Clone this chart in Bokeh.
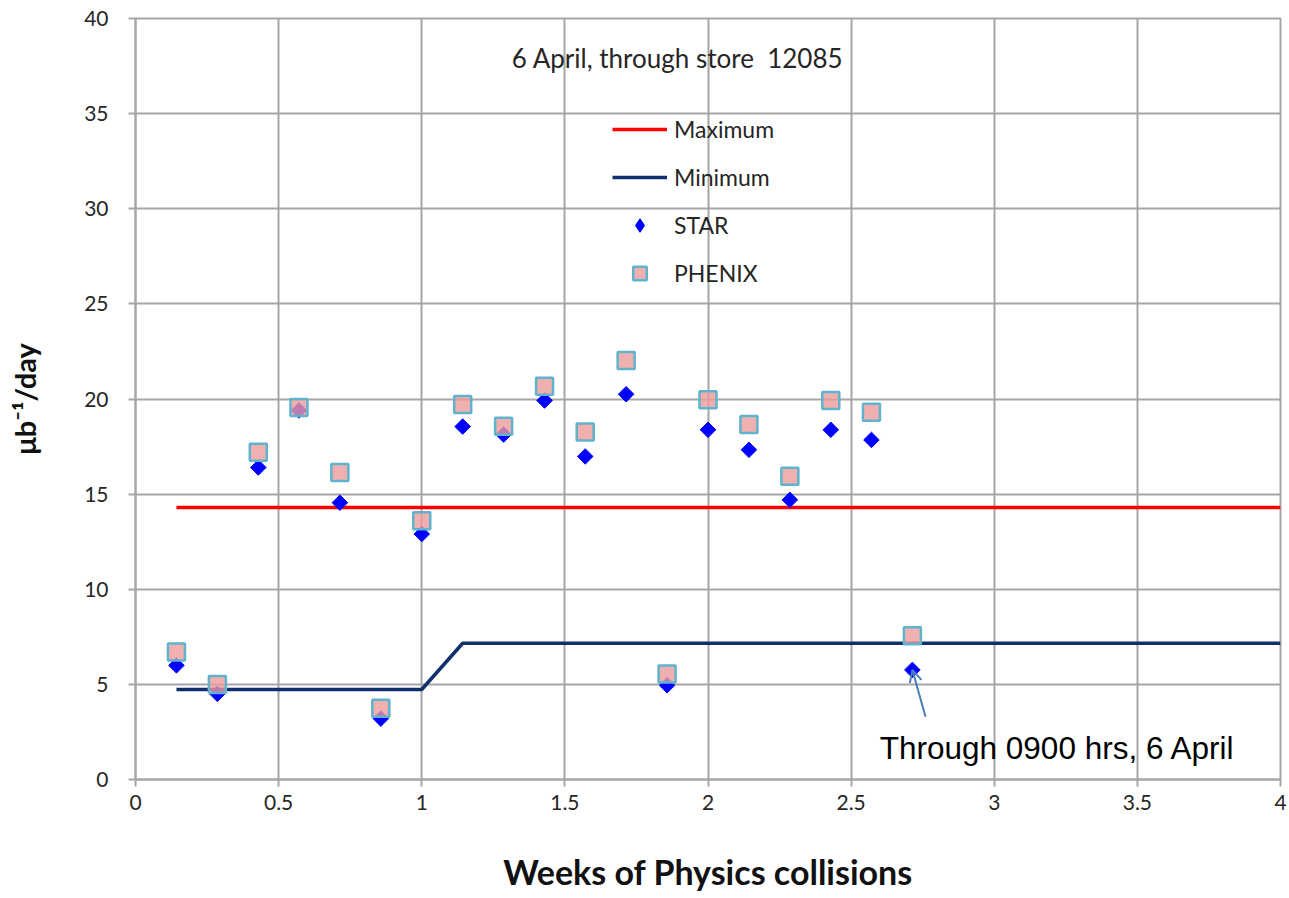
from bokeh.plotting import figure
from bokeh.models import (Legend, LegendItem, Label, Arrow, OpenHead,
                          FixedTicker, ColumnDataSource)
from bokeh.embed import file_html
from bokeh.resources import INLINE
import math

# Daily delivered luminosity, one point per day of running (weeks)
weeks = [0.143, 0.286, 0.429, 0.571, 0.714, 0.857, 1.0, 1.143, 1.286, 1.429,
         1.571, 1.714, 1.857, 2.0, 2.143, 2.286, 2.429, 2.571, 2.714]
star = [6.0, 4.5, 16.4, 19.4, 14.55, 3.2, 12.9, 18.55, 18.13, 19.92,
        16.98, 20.25, 4.95, 18.38, 17.33, 14.7, 18.38, 17.85, 5.76]
phenix = [6.7, 5.0, 17.2, 19.55, 16.14, 3.75, 13.6, 19.71, 18.57, 20.67,
          18.26, 22.02, 5.55, 19.96, 18.66, 15.94, 19.92, 19.31, 7.55]

# Projection bands
max_x = [0.143, 4.0]
max_y = [14.3, 14.3]
min_x = [0.143, 1.0, 1.143, 4.0]
min_y = [4.73, 4.73, 7.16, 7.16]

x_ticks = [0, 0.5, 1, 1.5, 2, 2.5, 3, 3.5, 4]
y_ticks = [0, 5, 10, 15, 20, 25, 30, 35, 40]

TICK_FONT = "Lato"
GRID = "#a6a6a6"
STAR_BLUE = "#0000ff"
PHX_FILL = "#ec9c9c"
PHX_EDGE = "#5fb3cc"
NAN = float("nan")

p = figure(width=1289, height=898, x_range=(0, 4), y_range=(0, 40),
           output_backend="svg", toolbar_location=None,
           min_border_left=135, min_border_right=9,
           min_border_top=18, min_border_bottom=119)
p.background_fill_color = "white"
p.border_fill_color = "white"
p.outline_line_color = GRID
p.outline_line_width = 2

for ax, ticks in ((p.xaxis[0], x_ticks), (p.yaxis[0], y_ticks)):
    ax.ticker = FixedTicker(ticks=ticks)
    ax.axis_line_color = GRID
    ax.axis_line_width = 2
    ax.major_tick_line_color = GRID
    ax.major_tick_line_width = 2
    ax.major_tick_out = 7
    ax.major_tick_in = 0
    ax.minor_tick_line_color = None
    ax.major_label_text_font = TICK_FONT
    ax.major_label_text_font_size = "21px"
    ax.major_label_text_color = "#262626"
    ax.axis_label_text_font = TICK_FONT
    ax.axis_label_text_font_style = "bold"
    ax.axis_label_text_color = "#111111"

p.xaxis[0].major_label_overrides = {0: "0", 1: "1", 2: "2", 3: "3", 4: "4"}
p.yaxis[0].major_label_standoff = 20
p.xaxis[0].major_label_standoff = 8
p.xaxis[0].axis_label = "Weeks of Physics collisions"
p.xaxis[0].axis_label_text_font_size = "34px"
p.xaxis[0].axis_label_standoff = 38
p.yaxis[0].axis_label = "\u03bcb\u207b\u00b9/day"
p.yaxis[0].axis_label_text_font_size = "29px"
p.yaxis[0].axis_label_standoff = 39

p.xgrid.ticker = FixedTicker(ticks=x_ticks)
p.ygrid.ticker = FixedTicker(ticks=y_ticks)
p.grid.grid_line_color = GRID
p.grid.grid_line_width = 2

r_max = p.line(max_x, max_y, line_color="#ff0000", line_width=3.5)
r_min = p.line(min_x, min_y, line_color="#10306b", line_width=3.5)

src = ColumnDataSource(dict(x=weeks, star=star, phenix=phenix))
r_star = p.scatter("x", "star", source=src, marker="square", size=11,
                   angle=math.pi / 4, fill_color=STAR_BLUE,
                   line_color=STAR_BLUE, line_width=1)
r_phx = p.scatter("x", "phenix", source=src, marker="square", size=17,
                  fill_color=PHX_FILL, fill_alpha=0.8,
                  line_color=PHX_EDGE, line_width=2.5)

# legend swatches: a single undrawable (NaN) point each, shown only in the key
key_star = p.scatter([NAN], [NAN], marker="diamond", size=18,
                     fill_color=STAR_BLUE, line_color=STAR_BLUE)
key_phx = p.scatter([NAN], [NAN], marker="square", size=17,
                    fill_color=PHX_FILL, fill_alpha=0.8,
                    line_color=PHX_EDGE, line_width=2.5)

legend = Legend(items=[
    LegendItem(label="Maximum", renderers=[r_max]),
    LegendItem(label="Minimum", renderers=[r_min]),
    LegendItem(label="STAR", renderers=[key_star]),
    LegendItem(label="PHENIX", renderers=[key_phx]),
], location=(477, 489), orientation="vertical",
   glyph_width=55, glyph_height=34, spacing=14, padding=0, margin=0,
   label_standoff=7, label_text_font=TICK_FONT,
   label_text_font_size="23px", label_text_color="#262626",
   border_line_color=None, background_fill_alpha=0)
p.add_layout(legend)

p.add_layout(Label(x=1.894, y=37.9,
                   text="6 April, through store\u00a0\u00a012085",
                   text_font=TICK_FONT, text_font_size="26px",
                   text_color="#262626", text_align="center",
                   text_baseline="middle"))

p.add_layout(Arrow(end=OpenHead(size=12, line_color="#4a7ebb", line_width=2),
                   x_start=2.76, y_start=3.3, x_end=weeks[-1], y_end=star[-1],
                   line_color="#4a7ebb", line_width=2))
p.add_layout(Label(x=2.6, y=1.63, text="Through 0900 hrs, 6 April",
                   text_font="Liberation Sans", text_font_size="31.5px",
                   text_color="black", text_align="left",
                   text_baseline="middle"))

open("out.html", "w").write(file_html(p, INLINE))
